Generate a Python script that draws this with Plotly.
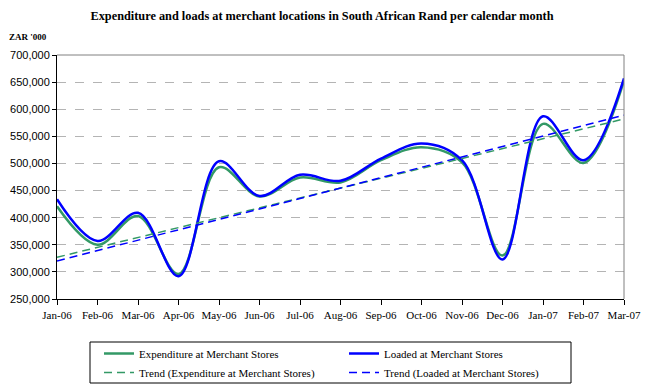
import plotly.graph_objects as go

months = ["Jan-06", "Feb-06", "Mar-06", "Apr-06", "May-06", "Jun-06", "Jul-06",
          "Aug-06", "Sep-06", "Oct-06", "Nov-06", "Dec-06", "Jan-07", "Feb-07", "Mar-07"]
expenditure = [421000, 350000, 403000, 296000, 493000, 439000, 474000,
               465000, 506000, 530000, 502000, 330000, 573000, 501000, 653000]
loaded = [434000, 357000, 409000, 292000, 504000, 440000, 479000,
          468000, 509000, 537000, 506000, 323000, 587000, 506000, 657000]
trend_months = ["Jan-06", "Mar-07"]
trend_expenditure = [327000, 582000]
trend_loaded = [320000, 589000]

GREEN = "#339966"
BLUE = "#0000FF"
SERIF = "Liberation Serif"

W, H = 661, 388
L, R, T, B = 57, 37, 55, 89
PW, PH = W - L - R, H - T - B


def px_x(x):
    return (x - L) / PW


def px_y(y):
    return (H - B - y) / PH


fig = go.Figure()
fig.add_trace(go.Scatter(x=months, y=expenditure, name="Expenditure at Merchant Stores",
                         mode="lines", line=dict(color=GREEN, width=2.5, shape="spline", smoothing=1)))
fig.add_trace(go.Scatter(x=months, y=loaded, name="Loaded at Merchant Stores",
                         mode="lines", line=dict(color=BLUE, width=2.5, shape="spline", smoothing=1)))
fig.add_trace(go.Scatter(x=trend_months, y=trend_expenditure, name="Trend (Expenditure at Merchant Stores)",
                         mode="lines", line=dict(color=GREEN, width=1.5, dash="8px,5px")))
fig.add_trace(go.Scatter(x=trend_months, y=trend_loaded, name="Trend (Loaded at Merchant Stores)",
                         mode="lines", line=dict(color=BLUE, width=1.5, dash="8px,5px")))

fig.update_layout(
    width=W, height=H,
    margin=dict(l=L, r=R, t=T, b=B, autoexpand=False),
    paper_bgcolor="white", plot_bgcolor="white",
    title=dict(text="<b>Expenditure and loads at merchant locations in South African Rand per calendar month</b>",
               xref="container", yref="container",
               x=322 / W, xanchor="center", y=1 - 16 / H, yanchor="middle",
               font=dict(family=SERIF, size=12.3, color="black")),
    showlegend=True,
    legend=dict(orientation="h", x=px_x(99), xanchor="left", y=px_y(339), yanchor="top",
                borderwidth=0, bgcolor="rgba(0,0,0,0)",
                entrywidth=200, entrywidthmode="pixels",
                font=dict(family=SERIF, size=11, color="black"),
                traceorder="normal"),
    annotations=[dict(text="<b>ZAR '000</b>", xref="paper", yref="paper",
                      x=px_x(6.5), y=px_y(37), xanchor="left", yanchor="middle",
                      showarrow=False, font=dict(family=SERIF, size=9, color="black"))],
    shapes=[
        dict(type="line", xref="paper", yref="paper", x0=0, x1=1, y0=1, y1=1,
             line=dict(color="#808080", width=1)),
        dict(type="line", xref="paper", yref="paper", x0=1, x1=1, y0=0, y1=1,
             line=dict(color="#808080", width=1)),
        dict(type="rect", xref="paper", yref="paper",
             x0=px_x(90), x1=px_x(571), y0=px_y(342), y1=px_y(383),
             line=dict(color="black", width=1), fillcolor="rgba(0,0,0,0)"),
    ],
)

fig.update_xaxes(type="category", categoryorder="array", categoryarray=months,
                 range=[0, len(months) - 1], showgrid=False, zeroline=False,
                 showline=True, linecolor="black", linewidth=1,
                 ticks="outside", ticklen=5, tickcolor="black", ticklabelstandoff=1,
                 tickfont=dict(family=SERIF, size=11, color="black"))
fig.update_yaxes(range=[250000, 700000], dtick=50000, tickformat=",",
                 showgrid=True, gridcolor="#b4b4b4", griddash="dash", gridwidth=1,
                 zeroline=False, showline=True, linecolor="black", linewidth=1,
                 ticks="outside", ticklen=4, tickcolor="black",
                 tickfont=dict(family="Liberation Sans", size=11, color="black"))

fig.write_html("out.html", config={"displayModeBar": False},
               post_script="document.body.style.margin='0';")
